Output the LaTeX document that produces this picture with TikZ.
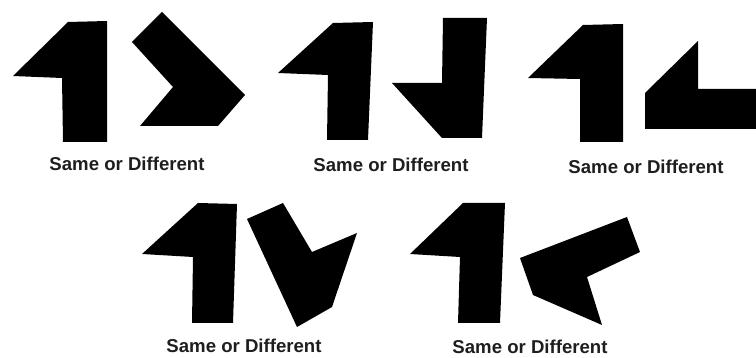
\documentclass[tikz,border=0pt]{standalone}
\usepackage{fontspec}
\setmainfont{Liberation Sans}

\definecolor{figureblack}{RGB}{0,0,0}
\definecolor{captiongray}{RGB}{30,30,30}

\begin{document}
\begin{tikzpicture}[x=1pt,y=-1pt,
    block/.style={fill=figureblack},
    caption/.style={text=captiongray,inner sep=1pt,font=\bfseries\fontsize{18.6}{20}\selectfont}]
    \useasboundingbox (0,0) rectangle (756,358);
    % reference figures
    \fill[block] (13,76)--(68,22)--(107,21)--(107,142)--(63,142)--(62,78)--cycle;
    \fill[block] (278,73)--(333,23)--(373,22)--(368,140)--(327,140)--(328,75)--cycle;
    \fill[block] (528,78)--(583,25)--(623,24)--(623,142)--(580,142)--(580,79)--cycle;
    \fill[block] (142,254)--(198,203)--(237,204)--(233,323)--(192,323)--(193,257)--cycle;
    \fill[block] (410,254)--(463,203)--(505,203)--(500,323)--(458,323)--(460,257)--cycle;
    % rotated copies
    \fill[block] (132,42)--(162,12)--(245,95)--(218,126)--(140,126)--(173,87)--cycle;
    \fill[block] (443,18)--(487,18)--(482,138)--(442,138)--(392,83)--(442,83)--cycle;
    \fill[block] (645,129)--(645,93)--(698,41)--(698,89)--(756,89)--(756,129)--cycle;
    \fill[block] (247,219)--(283,203)--(312,252)--(357,233)--(332,307)--(297,327)--cycle;
    \fill[block] (520,258)--(627,217)--(640,252)--(587,277)--(602,325)--(533,295)--cycle;
    % captions
    \foreach \name/\x/\y in {capA/127/164,capB/391/165,capC/646/167,capD/244/346,capE/530/347}
      \node[caption] (\name) at (\x,\y) {Same or Different};
\end{tikzpicture}
\end{document}
